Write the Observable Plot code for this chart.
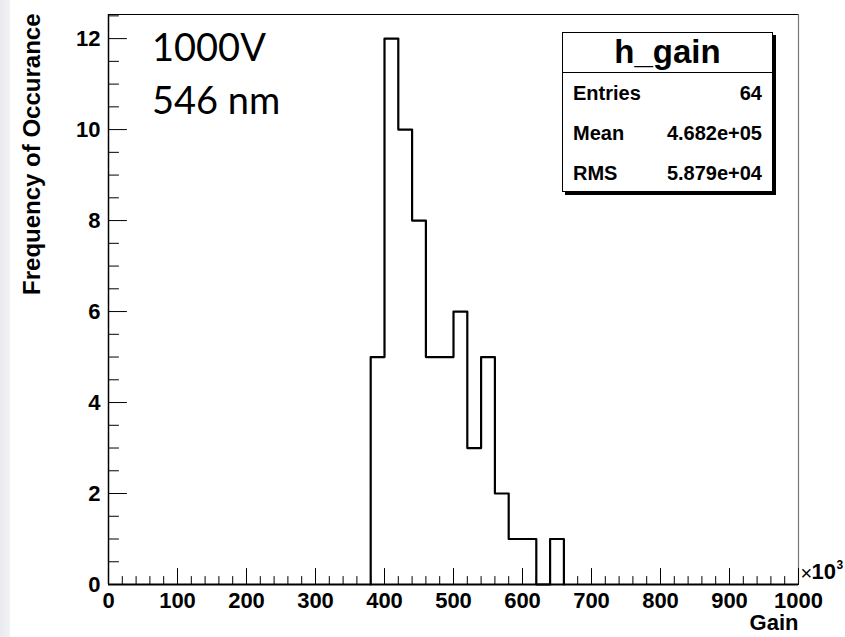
<!DOCTYPE html>
<html>
<head>
<meta charset="utf-8">
<script src="https://cdn.jsdelivr.net/npm/d3@7"></script>
<script src="https://cdn.jsdelivr.net/npm/@observablehq/plot@0.6"></script>
<style>
  html, body { margin: 0; padding: 0; background: #fff; }
  #wrap { position: relative; width: 845px; height: 637px; overflow: hidden; background: #fff; }
  #strip { position: absolute; left: 0; top: 0; width: 10px; height: 637px; background: linear-gradient(to right, #e9eaee, #f3f3f6); }
  #stats { position: absolute; left: 562px; top: 32px; width: 209px; height: 158px; border: 1px solid #000; background: #fff;
           box-shadow: 3px 3px 0 #000; font-family: "Liberation Sans", Arial, sans-serif; font-weight: bold; color: #000; }
  #stats .title { height: 39px; border-bottom: 1px solid #000; text-align: center; font-size: 33px; line-height: 38px; }
  #stats .row { display: flex; justify-content: space-between; padding: 0 10px 0 10px; font-size: 20px; height: 40px; line-height: 40px; }
  #note { position: absolute; left: 152px; top: 20px; font-family: Lato, "Open Sans", sans-serif; font-size: 38px; line-height: 53px; color: #000; }
</style>
</head>
<body>
<div id="wrap">
  <div id="strip"></div>
  <div id="chart"></div>
  <div id="note"></div>
  <div id="stats"></div>
</div>
<script>
// Data (bin start in units of 10^3, bin width 20)
const binStarts = [380, 400, 420, 440, 460, 480, 500, 520, 540, 560, 580, 600, 620, 640];
const counts    = [5, 12, 10, 8, 5, 5, 6, 3, 5, 2, 1, 1, 0, 1];
const binWidth = 20;
const xTicks = [0, 100, 200, 300, 400, 500, 600, 700, 800, 900, 1000];
const yTicks = [0, 2, 4, 6, 8, 10, 12];
const noteLines = ["1000V", "546 nm"];
const statsTitle = "h_gain";
const statsLabels = ["Entries", "Mean", "RMS"];
const statsValues = ["64", "4.682e+05", "5.879e+04"];
const xLabel = "Gain";
const yLabel = "Frequency of Occurance";

// step outline points
const pts = [{x: binStarts[0], y: 0}];
binStarts.forEach((b, i) => pts.push({x: b, y: counts[i]}));
pts.push({x: binStarts[binStarts.length - 1] + binWidth, y: 0});

const xMinor = d3.range(0, 1001, 20).filter(v => v % 100 !== 0);
const yMinor = d3.range(0, 12.6, 0.5).filter(v => v % 2 !== 0);

const tickShape = {draw(context, l) { context.moveTo(0, 0); context.lineTo(0, -l); }};
const font = '"Liberation Sans", Arial, sans-serif';

const plot = Plot.plot({
  width: 845,
  height: 637,
  marginLeft: 108,
  marginRight: 47,
  marginTop: 14,
  marginBottom: 53,
  style: {fontFamily: font, background: "transparent", overflow: "visible"},
  x: {domain: [0, 1000]},
  y: {domain: [0, 12.53]},
  marks: [
    Plot.frame({anchor: "top", stroke: "#000", strokeWidth: 1}),
    Plot.frame({anchor: "right", stroke: "#777", strokeWidth: 1.2}),
    Plot.ruleY([0], {stroke: "#000", strokeWidth: 2}),
    Plot.ruleX([0], {stroke: "#000", strokeWidth: 1.5}),
    // x major & minor ticks (pointing up)
    Plot.vector(xTicks, {x: d => d, y: 0, length: 16, rotate: 0, anchor: "start", shape: tickShape, stroke: "#000", strokeWidth: 1}),
    Plot.vector(xMinor, {x: d => d, y: 0, length: 8, rotate: 0, anchor: "start", shape: tickShape, stroke: "#000", strokeWidth: 1}),
    // y major & minor ticks (pointing right)
    Plot.vector(yTicks, {x: 0, y: d => d, length: 18, rotate: 90, anchor: "start", shape: tickShape, stroke: "#000", strokeWidth: 1}),
    Plot.vector(yMinor, {x: 0, y: d => d, length: 10, rotate: 90, anchor: "start", shape: tickShape, stroke: "#000", strokeWidth: 1}),
    Plot.line(pts, {x: "x", y: "y", curve: "step-after", stroke: "#000", strokeWidth: 2.2}),
    Plot.axisX({ticks: xTicks, tickSize: 0, tickPadding: 8, fontSize: 22, fontWeight: "bold", tickFormat: d => String(d), label: null}),
    Plot.axisY({ticks: yTicks, tickSize: 0, tickPadding: 8, fontSize: 22, fontWeight: "bold", tickFormat: d => String(d), label: null}),
    Plot.text([xLabel], {frameAnchor: "bottom-right", dy: 45, textAnchor: "end", fontSize: 22, fontWeight: "bold"}),
    Plot.text(["×"], {frameAnchor: "bottom-right", dx: 2, dy: -5, textAnchor: "start", fontSize: 20, fontWeight: "normal"}),
    Plot.text(["10"], {frameAnchor: "bottom-right", dx: 13, dy: -6, textAnchor: "start", fontSize: 22, fontWeight: "bold"}),
    Plot.text(["3"], {frameAnchor: "bottom-right", dx: 38, dy: -16, textAnchor: "start", fontSize: 12, fontWeight: "bold"}),
    Plot.text([yLabel], {frameAnchor: "top-left", dx: -86, dy: -1, rotate: -90, textAnchor: "end", fontSize: 24, fontWeight: "bold"})
  ]
});
document.getElementById("chart").appendChild(plot);

document.getElementById("note").innerHTML = noteLines.map(s => `<div>${s}</div>`).join("");
const stats = document.getElementById("stats");
stats.innerHTML = `<div class="title">${statsTitle}</div>` +
  statsLabels.map((l, i) => `<div class="row"><span>${l}</span><span>${statsValues[i]}</span></div>`).join("");
</script>
</body>
</html>
